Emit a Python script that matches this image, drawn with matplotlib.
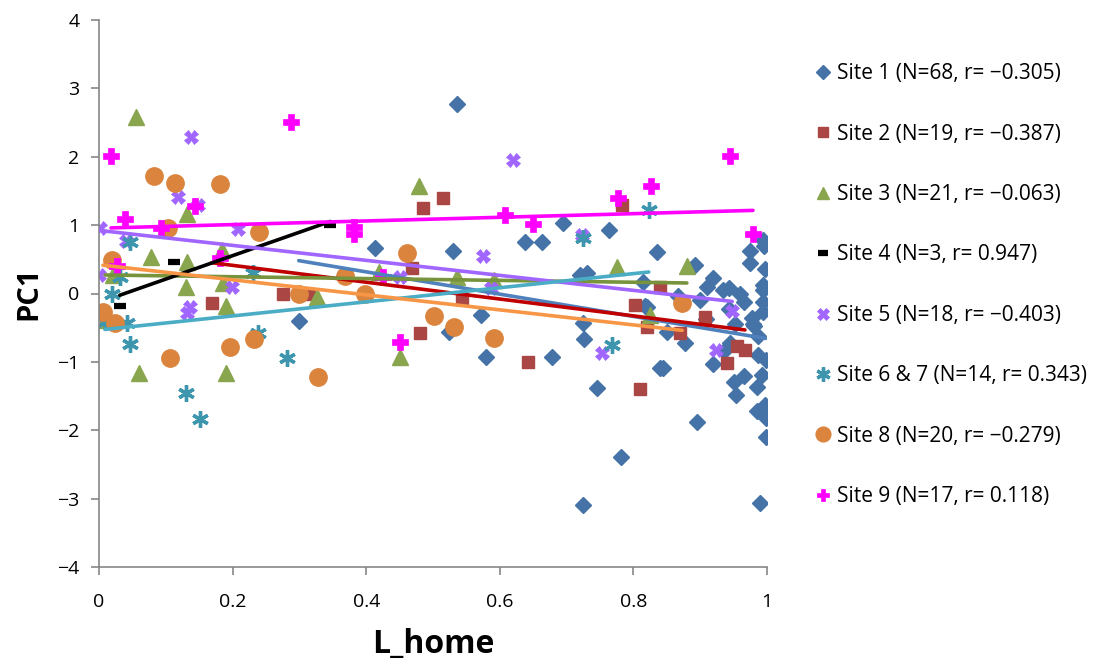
import numpy as np
import matplotlib
matplotlib.use("Agg")
import matplotlib.pyplot as plt

plt.rcParams['font.family'] = ['Open Sans', 'DejaVu Sans']

# ---- data ----
s1_x = [0.536, 0.413, 0.530, 0.638, 0.663, 0.695, 0.763, 0.835, 0.299, 0.524, 0.572, 0.579,
        0.678, 0.720, 0.731, 0.814, 0.820, 0.725, 0.726, 0.745, 0.840, 0.892, 0.919, 0.910,
        0.943, 0.966, 0.994, 0.995, 0.997, 0.994, 0.994, 0.994, 0.994, 0.952, 0.979, 0.850,
        0.877, 0.986, 0.945, 0.986, 0.998, 0.919, 0.844, 0.992, 0.950, 0.985, 0.953, 0.997,
        0.985, 0.998, 0.895, 0.998, 0.989, 0.725, 0.781, 0.817, 0.977, 0.934, 0.900, 0.943,
        0.960, 0.974, 0.974, 0.935, 0.965, 0.981, 0.867, 0.908]
s1_y = [2.77, 0.67, 0.62, 0.76, 0.76, 1.03, 0.93, 0.60, -0.40, -0.56, -0.31, -0.93,
        -0.93, 0.27, 0.30, 0.17, -0.20, -0.43, -0.66, -1.38, -1.09, 0.42, 0.23, 0.09,
        0.08, -0.12, 0.78, 0.70, 0.36, 0.12, 0.05, -0.12, -0.27, -0.44, -0.44, -0.56,
        -0.72, -0.62, -0.72, -0.90, -0.97, -1.03, -1.09, -1.19, -1.30, -1.37, -1.49, -1.63,
        -1.72, -1.82, -1.88, -2.10, -3.06, -3.09, -2.39, -0.18, -0.36, 0.05, -0.09, -0.23,
        -0.01, 0.45, 0.62, -0.84, -1.20, -0.48, -0.03, -0.37]

s2_x = [0.169, 0.275, 0.314, 0.469, 0.485, 0.515, 0.481, 0.543, 0.642, 0.783, 0.802, 0.810,
        0.820, 0.840, 0.870, 0.907, 0.955, 0.967, 0.940]
s2_y = [-0.14, -0.01, -0.01, 0.37, 1.25, 1.40, -0.58, -0.08, -1.00, 1.29, -0.17, -1.40,
        -0.49, 0.10, -0.58, -0.34, -0.77, -0.83, -1.01]

s3_x = [0.055, 0.131, 0.078, 0.131, 0.184, 0.130, 0.190, 0.060, 0.190, 0.009, 0.186,
        0.479, 0.419, 0.536, 0.326, 0.451, 0.775, 0.880, 0.825, 0.021, 0.591]
s3_y = [2.58, 1.16, 0.53, 0.46, 0.64, 0.10, -0.18, -1.16, -1.16, -0.39, 0.15,
        1.57, 0.31, 0.24, -0.05, -0.93, 0.39, 0.40, -0.31, 0.27, 0.20]

s4_x = [0.031, 0.112, 0.346]
s4_y = [-0.18, 0.46, 1.00]

s5_x = [0.138, 0.118, 0.148, 0.002, 0.208, 0.040, 0.000, 0.199, 0.136, 0.131, 0.575, 0.451,
        0.620, 0.723, 0.587, 0.753, 0.948, 0.924]
s5_y = [2.29, 1.41, 1.29, 0.96, 0.94, 0.77, 0.27, 0.10, -0.20, -0.28, 0.55, 0.24,
        1.95, 0.85, 0.08, -0.87, -0.26, -0.82]

s6_x = [0.046, 0.019, 0.042, 0.046, 0.130, 0.031, 0.238, 0.231, 0.281, 0.151, 0.725, 0.823,
        0.768, 0.009]
s6_y = [0.75, 0.00, -0.43, -0.74, -1.45, 0.24, -0.58, 0.30, -0.95, -1.83, 0.81, 1.22,
        -0.75, -0.42]

s8_x = [0.082, 0.114, 0.181, 0.103, 0.240, 0.019, 0.006, 0.024, 0.106, 0.196, 0.232,
        0.299, 0.398, 0.328, 0.501, 0.531, 0.368, 0.461, 0.591, 0.873]
s8_y = [1.72, 1.61, 1.60, 0.96, 0.90, 0.49, -0.27, -0.43, -0.94, -0.78, -0.67,
        -0.01, -0.01, -1.22, -0.33, -0.49, 0.26, 0.59, -0.65, -0.14]

s9_x = [0.018, 0.039, 0.144, 0.093, 0.027, 0.181, 0.287, 0.382, 0.382, 0.451, 0.425,
        0.608, 0.650, 0.777, 0.826, 0.945, 0.979]
s9_y = [2.01, 1.09, 1.28, 0.96, 0.40, 0.52, 2.51, 0.97, 0.87, -0.71, 0.24,
        1.15, 1.02, 1.39, 1.57, 2.01, 0.87]

labels = ["Site 1 (N=68, r= \u22120.305)", "Site 2 (N=19, r= \u22120.387)",
          "Site 3 (N=21, r= \u22120.063)", "Site 4 (N=3, r= 0.947)",
          "Site 5 (N=18, r= \u22120.403)", "Site 6 & 7 (N=14, r= 0.343)",
          "Site 8 (N=20, r= \u22120.279)", "Site 9 (N=17, r= 0.118)"]

xticks = [0, 0.2, 0.4, 0.6, 0.8, 1]
xticklabels = ["0", "0.2", "0.4", "0.6", "0.8", "1"]
yticks = [-4, -3, -2, -1, 0, 1, 2, 3, 4]

# ---- styles ----
series = [
    (s1_x, s1_y, dict(marker='D', ms=8.5, color='#4572A7', mec='#4572A7'), '#4F81BD'),
    (s2_x, s2_y, dict(marker='s', ms=9, color='#AA4643', mec='#AA4643'), '#C00000'),
    (s3_x, s3_y, dict(marker='^', ms=11, color='#89A54E', mec='#89A54E'), '#77933C'),
    (s4_x, s4_y, dict(marker='_', ms=9, mew=4.5, color='black'), 'black'),
    (s5_x, s5_y, dict(marker='X', ms=10, color='#A066FF', mec='#A066FF', mew=0.5), '#A066FF'),
    (s6_x, s6_y, dict(marker=(6, 2, 0), ms=12, color='#3D96AE', mec='#3D96AE', mew=2.4), '#4BACC6'),
    (s8_x, s8_y, dict(marker='o', ms=12.5, color='#DB843D', mec='#DB843D'), '#F79646'),
    (s9_x, s9_y, dict(marker='P', ms=11, color='#FF00FF', mec='#FF00FF', mew=0.5), '#FF00FF'),
]

fig = plt.figure(figsize=(10.99, 6.71), dpi=100)
ax = fig.add_axes([99 / 1099, 1 - 567 / 671, 668 / 1099, 547 / 671])

handles = []
for (xs, ys, st, lc), lab in zip(series, labels):
    xs = np.asarray(xs); ys = np.asarray(ys)
    h, = ax.plot(xs, ys, linestyle='none', zorder=2, label=lab, **st)
    handles.append(h)
    k, b = np.polyfit(xs, ys, 1)
    xr = np.array([xs.min(), xs.max()])
    ax.plot(xr, k * xr + b, color=lc, lw=2.6, zorder=3, solid_capstyle='round')

ax.set_xlim(0, 1)
ax.set_ylim(-4, 4)
ax.set_xticks(xticks)
ax.set_xticklabels(xticklabels)
ax.set_yticks(yticks)
for s in ['top', 'right']:
    ax.spines[s].set_visible(False)
for s in ['left', 'bottom']:
    ax.spines[s].set_color('#868686')
    ax.spines[s].set_linewidth(1.2)
ax.tick_params(axis='both', direction='out', length=6, width=1.2, color='#868686',
               labelsize=14, labelcolor='black')
ax.tick_params(axis='x', pad=13)
ax.tick_params(axis='y', pad=8)
ax.set_xlabel("L_home", fontsize=23, fontweight='bold', labelpad=12)
ax.set_ylabel("PC1", fontsize=21, fontweight='bold', labelpad=10)

leg = fig.legend(handles=handles, labels=labels, loc='upper left',
                 bbox_to_anchor=(805 / 1099, 1 - 55 / 671), frameon=False,
                 fontsize=15, labelspacing=1.89, handletextpad=0.2,
                 handlelength=0.95, borderaxespad=0, markerscale=0.85)

fig.savefig("out.png", dpi=100)
